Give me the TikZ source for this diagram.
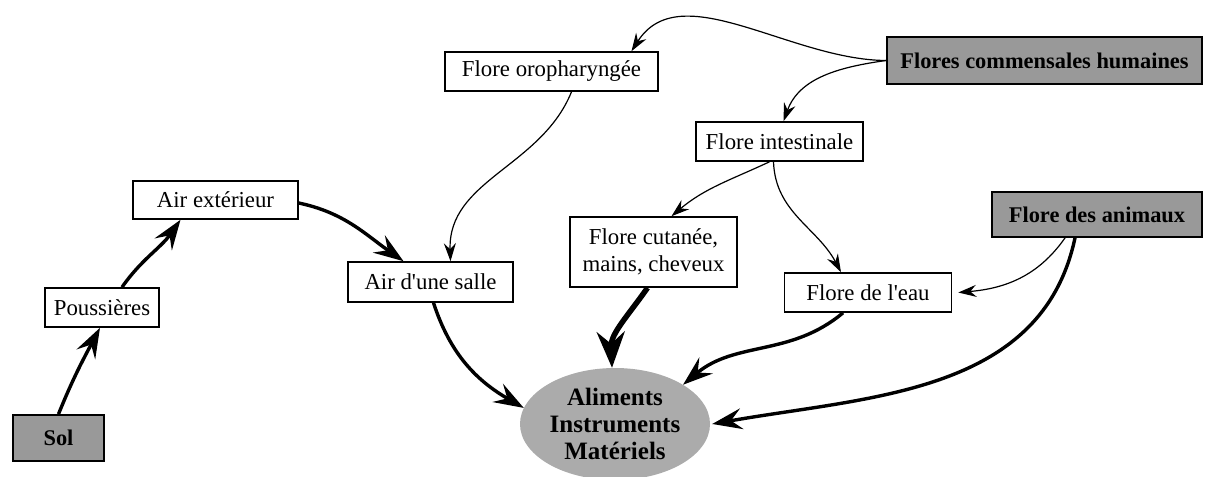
\documentclass[tikz,border=0pt]{standalone}
\usepackage{fontspec}
\setmainfont{Liberation Serif}
\usetikzlibrary{arrows.meta,shapes.geometric}
\begin{document}
\begin{tikzpicture}[
  x=1pt, y=-1pt,
  >={Stealth[length=18pt,width=12pt,inset=6pt]},
  font=\fontsize{22.8}{27}\selectfont,
  srcbox/.style={rectangle, draw=black, line width=1.8pt, fill=black!40,
                 font=\fontsize{22.4}{27}\selectfont\bfseries, inner sep=0pt},
  plainbox/.style={rectangle, draw=black, line width=1.6pt, fill=white,
                   align=center, inner sep=0pt},
  target/.style={ellipse, fill=black!33, align=center, inner sep=0pt,
                 minimum width=190pt, minimum height=112pt,
                 font=\fontsize{25}{27}\selectfont\bfseries},
  flow/.style={->, line width=1.2pt},
  bigflow/.style={-{Stealth[length=30pt,width=21pt,inset=11pt]}, line width=3.4pt}
]
\useasboundingbox (0,0) rectangle (1206,476);

\node[srcbox, minimum width=91pt, minimum height=46pt]     (sol)      at (58.5,438)   {Sol};
\node[plainbox, minimum width=114pt, minimum height=39pt]  (pouss)    at (102,307.5)  {Poussières};
\node[plainbox, minimum width=165pt, minimum height=38pt]  (airext)   at (215.5,200)  {Air extérieur};
\node[plainbox, minimum width=165pt, minimum height=40pt]  (airsalle) at (430.5,282)  {Air d\textquotesingle une salle};
\node[plainbox, minimum width=213pt, minimum height=39pt]  (oro)      at (551.5,71.5) {Flore oropharyngée};
\node[srcbox, minimum width=315pt, minimum height=47pt]    (comm)     at (1044.5,60.5) {Flores commensales humaines};
\node[plainbox, minimum width=167pt, minimum height=39pt]  (intest)   at (779.5,141.5) {Flore intestinale};
\node[plainbox, minimum width=167pt, minimum height=70pt]  (cutanee)  at (653.5,252)  {Flore cutanée,\\mains, cheveux};
\node[plainbox, minimum width=167pt, minimum height=39pt]  (eau)      at (868,292.5)  {Flore de l\textquotesingle eau};
\node[srcbox, minimum width=210pt, minimum height=45pt]    (animaux)  at (1097,214.5) {Flore des animaux};
\node[target]                                              (alim)     at (615,424)    {Aliments\\Instruments\\Matériels};

% air path
\draw[bigflow] (sol.north) to[out=68,in=-118] ([xshift=-2pt]pouss.south);
\draw[bigflow] ([xshift=20pt]pouss.north) to[out=55,in=-125] ([xshift=-35pt]airext.south);
\draw[bigflow] ([yshift=-3pt]airext.east) to[out=-12,in=145] ([xshift=-27pt]airsalle.north);
\draw[flow] ([xshift=20pt]oro.south) to[out=-112,in=92] ([xshift=20pt]airsalle.north);

% human flora
\draw[flow] (comm.west) .. controls (790,60) and (680,-25) .. ([xshift=80pt]oro.north);
\draw[flow] (comm.west) to[out=188,in=70] ([xshift=4pt]intest.north);
\draw[flow] ([xshift=-10pt]intest.south) to[out=-155,in=40] ([xshift=18pt]cutanee.north);
\draw[flow] ([xshift=-6pt]intest.south) to[out=-88,in=118] ([xshift=-27pt]eau.north);
\draw[flow] ([xshift=-32pt]animaux.south) to[out=-125,in=5] ([xshift=6pt]eau.east);

% to the target
\draw[bigflow] ([xshift=3pt]airsalle.south) to[out=-72,in=150] (alim.170);
\draw[-{Stealth[length=36pt,width=28pt,inset=12pt]}, line width=5.5pt]
  ([xshift=-6pt]cutanee.south) to[out=-125,in=92] ([xshift=-3pt]alim.north);
\draw[bigflow] ([xshift=-25pt]eau.south) to[out=-140,in=40] (alim.30);
\draw[bigflow] ([xshift=-22pt]animaux.south) to[out=-102,in=10] ([xshift=2pt]alim.east);
\end{tikzpicture}
\end{document}
